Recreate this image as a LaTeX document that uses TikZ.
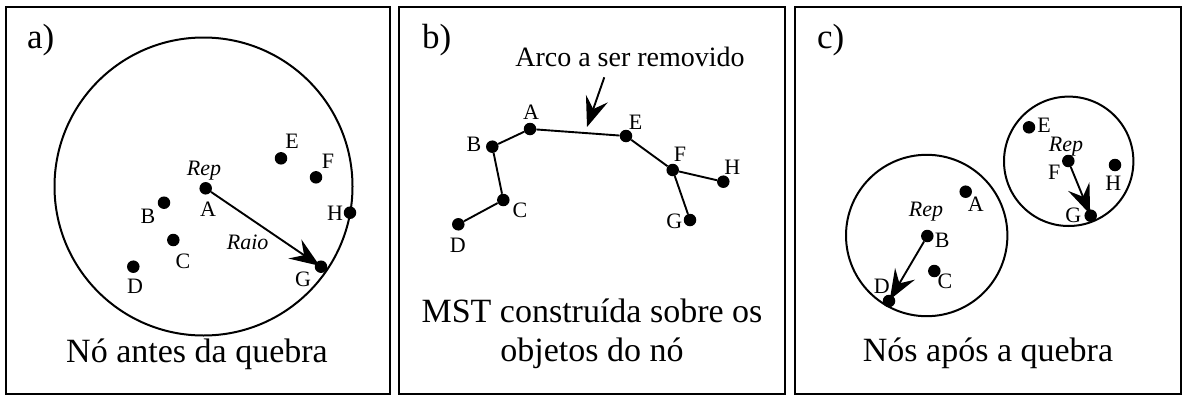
\documentclass[tikz,border=0pt]{standalone}
\usepackage{fontspec}
\setmainfont{Liberation Serif}
\usetikzlibrary{arrows.meta}
\begin{document}
\begin{tikzpicture}[x=1pt,y=-1pt,
  frame/.style={draw, line width=1.8pt},
  ring/.style={draw, line width=2pt},
  dot/.style={circle, fill, inner sep=0pt, minimum size=12.5pt},
  lbl/.style={inner sep=0pt, font=\fontsize{22}{26}\selectfont},
  replbl/.style={inner sep=0pt, anchor=base, font=\fontsize{22}{26}\selectfont\itshape},
  captxt/.style={inner sep=0pt, anchor=base, font=\fontsize{34}{39}\selectfont},
  tag/.style={inner sep=0pt, anchor=base west, font=\fontsize{35}{39}\selectfont},
  edge/.style={line width=1.9pt},
  arr/.style={line width=1.9pt, -{Stealth[length=30pt,width=23pt,inset=11pt]}},
  arrin/.style={arr, shorten >=1.5pt}]
\useasboundingbox (0,0) rectangle (1192,402);
\fill[white] (0,0) rectangle (1192,402);
% frames
\draw[frame] (6,7) rectangle (390,394);
\draw[frame] (399,7) rectangle (785,394);
\draw[frame] (795,7) rectangle (1181,394);
% ---------- panel a
\node[tag] (ta) at (27,48) {a)};
\draw[ring] (203.5,186.5) circle[radius=149];
\node[dot] (aA) at (205.7,188.3) {};
\node[dot] (aB) at (164,202.7) {};
\node[dot] (aC) at (173.3,240) {};
\node[dot] (aD) at (133.3,266.7) {};
\node[dot] (aE) at (281,158.3) {};
\node[dot] (aF) at (316,177.3) {};
\node[dot] (aH) at (350,212.7) {};
\node[dot] (aG) at (321,266.7) {};
\node[replbl] (aRep) at (204,175.7) {Rep};
\node[replbl] (aRaio) at (247.7,249.3) {Raio};
\node[lbl] (lA) at (208,209) {A};
\node[lbl] (lB) at (148,216) {B};
\node[lbl] (lC) at (183,261) {C};
\node[lbl] (lD) at (135,286) {D};
\node[lbl] (lE) at (292,141) {E};
\node[lbl] (lF) at (328,161) {F};
\node[lbl] (lH) at (335,213) {H};
\node[lbl] (lG) at (303,279) {G};
\draw[arrin] (aA) -- (aG.center);
\node[captxt] (capa) at (197,362.7) {Nó antes da quebra};
% ---------- panel b
\node[tag] (tb) at (422,48) {b)};
\node[inner sep=0pt, anchor=base, font=\fontsize{28}{33}\selectfont] (arco) at (630,66.7) {Arco a ser removido};
\node[dot] (bA) at (530,129) {};
\node[dot] (bB) at (492.3,146.7) {};
\node[dot] (bC) at (503.3,200) {};
\node[dot] (bD) at (458.3,224.3) {};
\node[dot] (bE) at (626,136) {};
\node[dot] (bF) at (672.7,170) {};
\node[dot] (bH) at (723.3,181.7) {};
\node[dot] (bG) at (690,220) {};
\draw[edge] (bD) -- (bC) -- (bB) -- (bA) -- (bE) -- (bF) -- (bH);
\draw[edge] (bF) -- (bG);
\node[lbl] (mA) at (531,112.3) {A};
\node[lbl] (mB) at (474,144) {B};
\node[lbl] (mC) at (520,210) {C};
\node[lbl] (mD) at (457.7,245) {D};
\node[lbl] (mE) at (635.7,122.7) {E};
\node[lbl] (mF) at (680,154.3) {F};
\node[lbl] (mH) at (732.3,167.7) {H};
\node[lbl] (mG) at (674.3,221.7) {G};
\coordinate (arcS) at (604.3,77.3);
\coordinate (arcT) at (587,127);
\draw[arr] (arcS) -- (arcT);
\node[captxt] (capb1) at (592,322.7) {MST construída sobre os};
\node[captxt] (capb2) at (592,361.7) {objetos do nó};
% ---------- panel c
\node[tag] (tc) at (817,48) {c)};
\draw[ring] (926.7,235.5) circle[radius=80.7];
\draw[ring] (1068.7,161.3) circle[radius=64.7];
\node[dot] (cE) at (1029,127.3) {};
\node[dot] (cF) at (1068.3,161) {};
\node[dot] (cH) at (1115,165) {};
\node[dot] (cG) at (1090.7,215.7) {};
\node[dot] (cA) at (965.7,191.7) {};
\node[dot] (cB) at (927.3,236) {};
\node[dot] (cC) at (934.3,271) {};
\node[dot] (cD) at (889,301) {};
\node[replbl] (cRep1) at (926,216) {Rep};
\node[replbl] (cRep2) at (1066,151) {Rep};
\node[lbl] (nE) at (1044,125) {E};
\node[lbl] (nF) at (1054.3,172.7) {F};
\node[lbl] (nH) at (1113.3,183.3) {H};
\node[lbl] (nG) at (1073.3,215) {G};
\node[lbl] (nA) at (975.7,204) {A};
\node[lbl] (nB) at (942.3,240) {B};
\node[lbl] (nC) at (945,281.7) {C};
\node[lbl] (nD) at (881.7,286.7) {D};
\draw[arrin] (cB) -- (cD.center);
\draw[arrin] (cF) -- (cG.center);
\node[captxt] (capc) at (988,361.7) {Nós após a quebra};
\end{tikzpicture}
\end{document}
